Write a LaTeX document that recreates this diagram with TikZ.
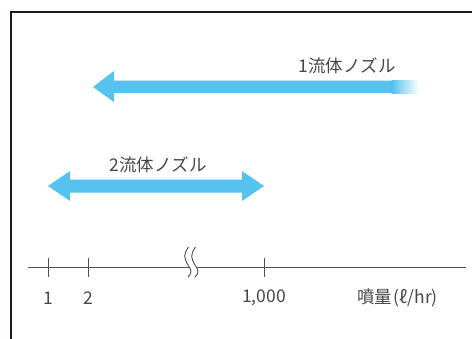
\documentclass[tikz,border=0pt]{standalone}
\usepackage{fontspec}
\setmainfont{Noto Sans CJK JP}
\begin{document}
\begin{tikzpicture}[x=1pt,y=-1pt,
  lbl/.style={text=black!72,font=\fontsize{17.5}{17.5}\selectfont,inner sep=0pt},
  tick/.style={draw=black!70,line width=0.9pt}]
\definecolor{arrowblue}{HTML}{55C2EF}
\useasboundingbox (0,0) rectangle (472,338);
% frame
\draw[line width=2.4pt,color={rgb,255:red,35;green,24;blue,21}] (11,340) -- (11,12) -- (474,12);
% arrow 1
\coordinate (a1tip) at (93,87);
\fill[arrowblue] (a1tip) -- (114,71) -- (114,80.5) -- (392,80.5) -- (392,93) -- (114,93) -- (114,102) -- cycle;
\shade[left color=arrowblue,right color=white] (391.5,80.5) rectangle (419,93);
\node[lbl,anchor=east] (t1) at (396,66) {1流体ノズル};
% arrow 2
\fill[arrowblue] (48,186) -- (70,171) -- (70,179.5) -- (242,179.5) -- (242,171) -- (264,186) -- (242,201) -- (242,192.5) -- (70,192.5) -- (70,201) -- cycle;
\node[lbl] (t2) at (158,165) {2流体ノズル};
% axis
\coordinate (axL) at (28,267);
\coordinate (axR) at (466,267);
\draw[tick] (axL) -- (axR);
\draw[tick] (48,258) -- (48,277);
\draw[tick] (88,258) -- (88,277);
\draw[tick] (264,258) -- (264,277);
% break
\fill[white] (188.5,247) .. controls (183,255) and (184,258) .. (188,265) .. controls (192,271) and (192,273) .. (188,277) -- (195,277) .. controls (199,273) and (199,271) .. (195,265) .. controls (191,258) and (190,255) .. (195.5,247) -- cycle;
\draw[tick] (188.5,247) .. controls (183,255) and (184,258) .. (188,265) .. controls (192,271) and (192,273) .. (188,277);
\draw[tick] (195.5,247) .. controls (190,255) and (191,258) .. (195,265) .. controls (199,271) and (199,273) .. (195,277);
% labels
\node[lbl] (l1) at (48,298) {1};
\node[lbl] (l2) at (88,298) {2};
\node[lbl] (l3) at (264,298) {1,000};
\node[lbl,anchor=west] (l4) at (357,298) {噴量\kern1.5pt(ℓ/hr)};
\end{tikzpicture}
\end{document}
